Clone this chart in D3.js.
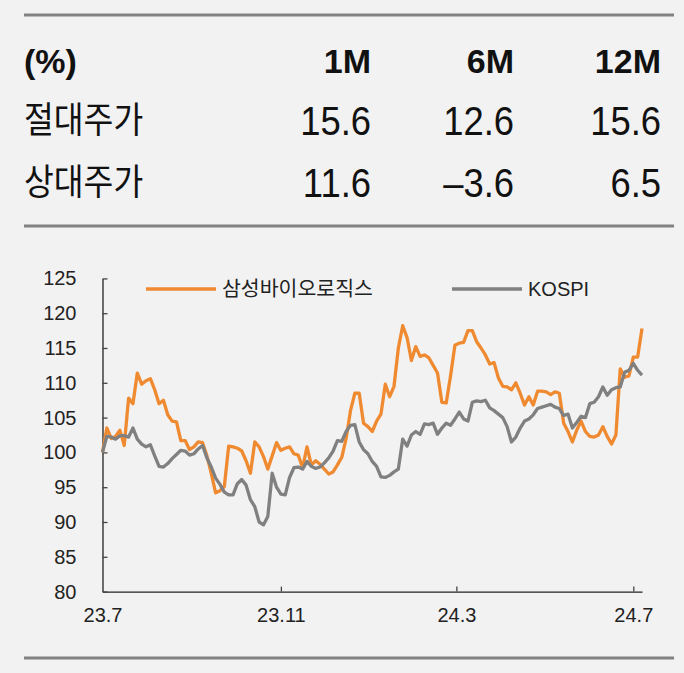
<!DOCTYPE html>
<html>
<head>
<meta charset="utf-8">
<script src="https://cdn.jsdelivr.net/npm/d3@7"></script>
<style>
  body { margin: 0; background: #f2f2f2; }
  svg { display: block; }
</style>
</head>
<body>
<svg></svg>
<script>
// table contents
let headerCols = ['1M', '6M', '12M'];
let rowLabels = ['절대주가', '상대주가'];
let absValues = ['15.6', '12.6', '15.6'];
let relValues = ['11.6', '–3.6', '6.5'];

// chart data: one reading every 3 days starting 2023-07-01 (rebased, 100 = start)
let startDate = '2023-07-01';
let stepDays = 3;
let bioValues = [
  100, 103.5, 102, 102.3, 103.2, 101, 107.8, 107, 111.4, 109.8,
  110.3, 110.6, 109, 107, 107.5, 105.4, 104.5, 104.4, 101.7, 101.7,
  100.4, 100.8, 101.5, 101.4, 99.5, 97, 94.2, 94.5, 95.1, 100.9,
  100.8, 100.6, 100.2, 98.8, 97, 101.5, 100.8, 99.4, 97.6, 99.5,
  101.4, 100.3, 100.6, 100.8, 99.8, 99.6, 97.8, 100.8, 98.2, 98.8,
  98.3, 97.6, 96.9, 97.2, 98.2, 99.3, 102, 106, 108.5, 108.5,
  104.2, 103.7, 103, 104.5, 105.5, 109.8, 108, 109.5, 115, 118.2,
  116.5, 113.2, 115.2, 113.8, 114, 113.6, 112.5, 111.4, 107.2, 107.1,
  111, 115.4, 115.7, 115.8, 117.5, 117.5, 115.9, 115, 114, 112.7,
  112.9, 110.7, 109.5, 109.4, 109, 110, 108.5, 106.8, 108, 106.8,
  108.8, 108.8, 108.7, 108.3, 108.7, 108.5, 104.2, 103, 101.5, 103.2,
  104.5, 103, 102.3, 102.2, 102.5, 103.7, 102.3, 101.2, 102.5, 112,
  110.8, 111, 113.7, 113.7, 117.8
];
let kospiValues = [
  100, 102.3, 102.2, 101.9, 102.4, 102.4, 102.2, 103.5, 101.9, 101.2,
  100.8, 101.1, 99.5, 98, 97.9, 98.4, 99.1, 99.7, 100.3, 100.2,
  99.6, 99.8, 100.5, 101, 99.2, 97.9, 96.3, 95.4, 94.3, 93.9,
  93.9, 95.5, 96.1, 95.3, 93.2, 92.2, 90, 89.6, 90.8, 97,
  95, 94, 93.9, 96.4, 97.8, 97.9, 97.6, 98.7, 98, 97.7,
  97.9, 98.5, 99.2, 100.2, 101.7, 101.6, 103, 103.9, 104, 101.5,
  100.4, 99.8, 98.7, 98, 96.5, 96.4, 96.7, 97.2, 97.6, 101.9,
  100.9, 102.5, 103, 102.6, 104.1, 104, 104.2, 102.6, 103.5, 104.2,
  103.9, 104.8, 105.8, 104.8, 104.5, 107.2, 107.4, 107.3, 107.5, 106.4,
  106, 105.5, 105, 103.7, 101.5, 102.2, 103.5, 104.5, 104.8, 105.4,
  106.3, 106.5, 106.7, 106.9, 106.5, 106.3, 105.3, 105.5, 103.5, 104.3,
  105.2, 105, 107, 107.2, 108, 109.4, 108.2, 109, 109.3, 109.4,
  111.5, 111.8, 112.8, 111.8, 111.1
];
let seriesNames = ['삼성바이오로직스', 'KOSPI'];
let xTickDates = ['2023-07-01', '2023-11-01', '2024-03-01', '2024-07-01'];
let xTickLabels = ['23.7', '23.11', '24.3', '24.7'];
let yTicks = [80, 85, 90, 95, 100, 105, 110, 115, 120, 125];

let width = 684;
let height = 673;
let orange = '#f08a30';
let grey = '#808080';
let ruleColor = '#828282';

let svg = d3.select('svg').attr('width', width).attr('height', height);
let parse = d3.timeParse('%Y-%m-%d');

let drawTable = () => {
    let rules = [15, 226, 658];
    svg.selectAll('line.rule')
    .data(rules)
    .enter()
    .append('line')
    .attr('class', 'rule')
    .attr('x1', 24).attr('x2', 674)
    .attr('y1', (d) => d).attr('y2', (d) => d)
    .attr('stroke', ruleColor)
    .attr('stroke-width', 3);

    let colRight = [371, 514, 661];

    svg.append('text')
    .attr('x', 24).attr('y', 73)
    .attr('font-family', 'Liberation Sans, Arial, sans-serif')
    .attr('font-weight', 'bold')
    .attr('font-size', 34)
    .attr('fill', '#111')
    .text('(%)');

    headerCols.forEach((c, i) => {
        svg.append('text')
        .attr('x', colRight[i]).attr('y', 73)
        .attr('text-anchor', 'end')
        .attr('font-family', 'Liberation Sans, Arial, sans-serif')
        .attr('font-weight', 'bold')
        .attr('font-size', 34)
        .attr('fill', '#111')
        .text(c);
    });

    let rows = [absValues, relValues];
    let baselines = [135, 197];
    rows.forEach((vals, r) => {
        svg.append('text')
        .attr('transform', 'translate(24,' + (baselines[r] - 2) + ') scale(0.9,1)')
        .attr('font-family', 'Noto Sans CJK KR, sans-serif')
        .attr('font-size', 36)
        .attr('fill', '#111')
        .text(rowLabels[r]);

        vals.forEach((v, i) => {
            svg.append('text')
            .attr('transform', 'translate(' + colRight[i] + ',' + baselines[r] + ') scale(0.91,1)')
            .attr('text-anchor', 'end')
            .attr('font-family', 'Liberation Sans, Arial, sans-serif')
            .attr('font-size', 40)
            .attr('fill', '#111')
            .text(v);
        });
    });
}

let drawChart = () => {
    let dates = bioValues.map((v, i) => d3.timeDay.offset(parse(startDate), i * stepDays));
    let xScale = d3.scaleTime()
    .domain([dates[0], dates[dates.length - 1]])
    .range([102.5, 642]);
    let yScale = d3.scaleLinear()
    .domain([80, 125])
    .range([591.6, 278.4]);

    let xAxis = d3.axisBottom(xScale)
    .tickValues(xTickDates.map(parse))
    .tickFormat((d, i) => xTickLabels[i])
    .tickSizeInner(-5)
    .tickSizeOuter(0)
    .tickPadding(16);

    let yAxis = d3.axisLeft(yScale)
    .tickValues(yTicks)
    .tickSizeInner(-5)
    .tickSizeOuter(0)
    .tickPadding(26);

    let gx = svg.append('g')
    .attr('id', 'x-axis')
    .attr('transform', 'translate(0,' + yScale(80) + ')')
    .call(xAxis);

    let gy = svg.append('g')
    .attr('id', 'y-axis')
    .attr('transform', 'translate(' + xScale(dates[0]) + ',0)')
    .call(yAxis);

    [gx, gy].forEach((g) => {
        g.select('.domain').attr('stroke', '#222').attr('stroke-width', 1.3);
        g.selectAll('.tick line').attr('stroke', '#444').attr('stroke-width', 1.3);
        g.selectAll('.tick text')
        .attr('font-family', 'Liberation Sans, Arial, sans-serif')
        .attr('font-size', 20)
        .attr('fill', '#222');
    });
    // first x tick sits on the y axis
    gx.selectAll('.tick line').filter((d, i) => i === 0).remove();

    let line = (vals) => d3.line()
    .x((d, i) => xScale(dates[i]))
    .y((d) => yScale(d))(vals);

    svg.append('path')
    .attr('d', line(bioValues))
    .attr('fill', 'none')
    .attr('stroke', orange)
    .attr('stroke-width', 3.3)
    .attr('stroke-linejoin', 'round');

    svg.append('path')
    .attr('d', line(kospiValues))
    .attr('fill', 'none')
    .attr('stroke', grey)
    .attr('stroke-width', 3.3)
    .attr('stroke-linejoin', 'round');

    // legend
    let legend = [
        {name: seriesNames[0], color: orange, x: 146, font: 'Noto Sans CJK KR, sans-serif', size: 20.5},
        {name: seriesNames[1], color: grey, x: 452, font: 'Liberation Sans, Arial, sans-serif', size: 20}
    ];
    legend.forEach((l) => {
        svg.append('line')
        .attr('x1', l.x).attr('x2', l.x + 70)
        .attr('y1', 289).attr('y2', 289)
        .attr('stroke', l.color)
        .attr('stroke-width', 3.3);
        svg.append('text')
        .attr('x', l.x + 76).attr('y', 289)
        .attr('dy', '0.35em')
        .attr('font-family', l.font)
        .attr('font-size', l.size)
        .attr('fill', '#222')
        .text(l.name);
    });
}

drawTable();
drawChart();
</script>
</body>
</html>
